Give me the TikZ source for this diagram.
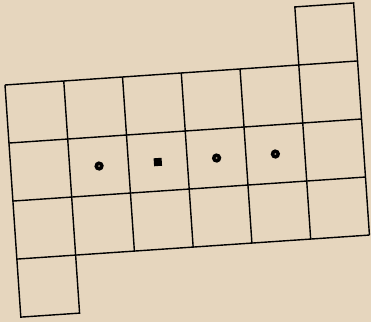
\documentclass[tikz,border=0pt]{standalone}
\definecolor{paper}{RGB}{230,214,190}
\begin{document}
\begin{tikzpicture}[line width=1.2pt]
\fill[paper] (0,0) rectangle (11.13,9.66);
\begin{scope}[shift={(0.15,7.11)},rotate=3.9,x=1.767cm,y=1.745cm]
% main grid, 6 x 3
\foreach \i in {0,...,6} \draw (\i,0) -- (\i,-3);
\foreach \j in {0,...,3} \draw (0,-\j) -- (6,-\j);
% extra cells
\draw (5,0) -- (5,1) -- (6,1) -- (6,0);
\draw (0,-3) -- (0,-4) -- (1,-4) -- (1,-3);
% marks in middle row
\foreach \k in {1,3,4} {
  \fill (\k+.5,-1.5) circle (4pt);
  \fill[paper!70!black] (\k+.5,-1.5) circle (.9pt);
}
\fill (2.5,-1.5) +(-3.4pt,-3.4pt) rectangle +(3.4pt,3.4pt);
\end{scope}
\end{tikzpicture}
\end{document}
